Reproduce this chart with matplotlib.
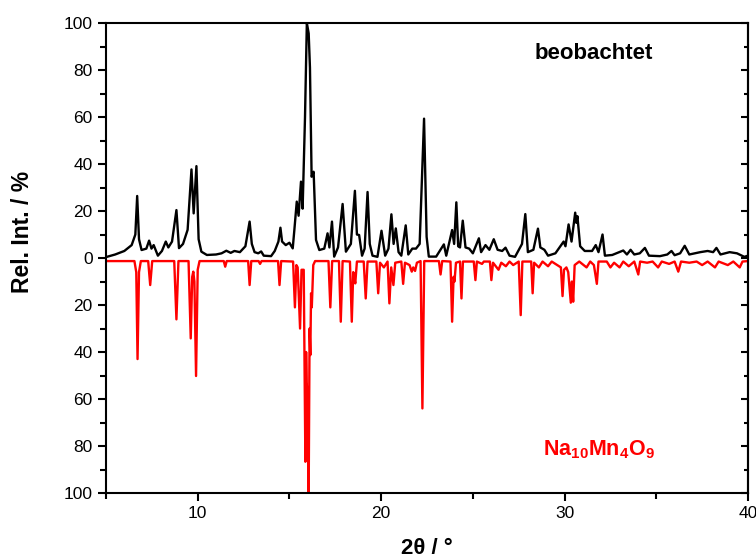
import matplotlib
matplotlib.use("Agg")
import matplotlib.pyplot as plt
from matplotlib.ticker import MultipleLocator, FuncFormatter

plt.rcParams["font.family"] = ["Liberation Sans", "DejaVu Sans"]
plt.rcParams["mathtext.fontset"] = "custom"
plt.rcParams["mathtext.rm"] = "Liberation Sans:bold"
plt.rcParams["mathtext.bf"] = "Liberation Sans:bold"
plt.rcParams["mathtext.it"] = "Liberation Sans:bold"

obs_x = [5.0, 5.5, 6.0, 6.4, 6.6, 6.70, 6.8, 6.94, 7.2, 7.35, 7.48, 7.6, 7.83, 8.05, 8.26,
         8.4, 8.6, 8.84, 8.98, 9.2, 9.45, 9.66, 9.78, 9.93, 10.05, 10.2, 10.5, 11.0, 11.3,
         11.56, 11.8, 12.0, 12.3, 12.6, 12.83, 12.95, 13.1, 13.3, 13.46, 13.6, 14.0, 14.2,
         14.4, 14.51, 14.6, 14.8, 15.0, 15.18, 15.27, 15.4, 15.5, 15.63, 15.72, 15.85, 15.95,
         16.05, 16.12, 16.21, 16.32, 16.45, 16.63, 16.9, 17.08, 17.18, 17.32, 17.44, 17.65,
         17.9, 18.08, 18.35, 18.57, 18.68, 18.8, 18.96, 19.1, 19.26, 19.38, 19.53, 19.8,
         20.02, 20.22, 20.4, 20.56, 20.68, 20.8, 20.95, 21.1, 21.34, 21.48, 21.7, 21.9, 22.1,
         22.34, 22.48, 22.6, 23.0, 23.42, 23.55, 23.87, 23.98, 24.1, 24.2, 24.3, 24.45, 24.6,
         24.8, 25.0, 25.33, 25.45, 25.69, 25.9, 26.14, 26.35, 26.6, 26.78, 27.0, 27.3, 27.68,
         27.86, 28.0, 28.3, 28.55, 28.68, 28.9, 29.1, 29.5, 29.95, 30.05, 30.22, 30.38, 30.58,
         30.64, 30.7, 30.85, 31.1, 31.5, 31.7, 31.85, 32.07, 32.2, 32.6, 33.2, 33.4, 33.6,
         33.8, 34.1, 34.38, 34.6, 35.2, 35.6, 35.83, 36.0, 36.3, 36.55, 36.8, 37.4, 37.8,
         38.1, 38.28, 38.5, 39.0, 39.4, 39.8, 40.0]
obs_y = [0.4, 1.5, 3.0, 5.5, 10, 26.4, 8, 3.4, 4, 7.4, 4, 5.5, 1, 3, 7,
         4.5, 7, 20.4, 4.2, 6, 12, 37.7, 19, 39.1, 8, 2.7, 1.3, 1.5, 2.0,
         3.1, 2.2, 3.0, 2.5, 5, 15.5, 6, 2.5, 2.0, 2.8, 1.0, 0.8, 3,
         7, 12.9, 7, 5.5, 6.5, 4.1, 12, 24, 18, 32.5, 21, 60, 100,
         95.6, 81, 34.6, 36.7, 7.7, 3.4, 4, 10.5, 4.5, 15.5, 0.6, 4.5,
         23, 2.7, 6, 28.6, 10, 9.8, 1, 4, 28.1, 6, 1, 0.5,
         11.6, 1, 4, 18.6, 6, 12.6, 2.5, 1, 13.9, 1.5, 4, 4, 6,
         59.3, 9, 0.6, 0.6, 5.8, 1, 11.9, 6, 23.7, 5, 4.5, 15.9, 4.5,
         4, 2, 8.4, 2.5, 5.5, 3.5, 8, 3.5, 3, 4.4, 1, 0.5, 6,
         18.7, 2.5, 3.5, 12.5, 4.5, 3.5, 1, 2, 7, 5, 14.3, 7, 19.3,
         15, 17.8, 5, 3, 3, 5.5, 2.5, 10, 1, 1.3, 3.2, 1.5, 3.5,
         1.5, 2, 4.3, 1, 0.8, 1.5, 3, 1.2, 2, 5.2, 1.5, 2.5, 3,
         2.5, 4.3, 1.5, 2.5, 2, 0.5, 1]

# calculated pattern of Na10Mn4O9, plotted downward
calc_x = [5.0, 6.55, 6.65, 6.72, 6.8, 6.9, 7.3, 7.41, 7.52, 8.72, 8.84, 8.95, 9.5, 9.62,
          9.7, 9.76, 9.82, 9.91, 10.0, 10.1, 11.42, 11.5, 11.58, 12.75, 12.83, 12.92, 13.32,
          13.4, 13.48, 14.38, 14.46, 14.55, 15.2, 15.3, 15.38, 15.45, 15.58, 15.66, 15.78,
          15.87, 15.91, 15.94, 16.0, 16.05, 16.1, 16.14, 16.18, 16.22, 16.3, 16.4, 17.13,
          17.23, 17.33, 17.7, 17.8, 17.9, 18.3, 18.4, 18.48, 18.53, 18.59, 18.68, 19.05,
          19.16, 19.26, 19.74, 19.84, 19.94, 20.15, 20.35, 20.45, 20.55, 20.67, 20.77, 21.1,
          21.2, 21.3, 21.55, 21.67, 21.75, 21.85, 21.95, 22.15, 22.25, 22.35, 23.15, 23.24,
          23.33, 23.78, 23.87, 23.95, 24.0, 24.08, 24.3, 24.38, 24.46, 25.05, 25.14, 25.22,
          25.5, 25.6, 25.93, 26.01, 26.1, 26.4, 26.55, 26.8, 27.0, 27.2, 27.5, 27.61, 27.7,
          28.18, 28.26, 28.34, 28.6, 28.8, 29.1, 29.3, 29.8, 29.89, 29.97, 30.1, 30.2, 30.34,
          30.4, 30.47, 30.55, 30.8, 31.2, 31.4, 31.6, 31.76, 31.85, 32.3, 32.5, 32.7, 33.0,
          33.2, 33.5, 33.8, 34.02, 34.12, 34.5, 34.8, 35.1, 35.3, 35.7, 36.0, 36.2, 36.35,
          36.8, 37.2, 37.5, 37.8, 38.2, 38.4, 38.9, 39.2, 39.55, 39.7, 40.0]
calc_y = [-1.3, -1.3, -6, -43, -6, -1.3, -1.3, -11.5, -1.3, -1.3, -26.1, -1.3, -1.3, -34.2,
          -8, -5.8, -10, -50.2, -5, -1.3, -1.3, -3.7, -1.3, -1.3, -11.5, -1.3, -1.3,
          -2.5, -1.3, -1.3, -11.5, -1.3, -1.5, -21, -3, -4, -30, -5, -5,
          -86.7, -40, -53, -60, -100, -30, -41.3, -15, -21, -3, -1.3, -1.3,
          -21, -1.3, -1.3, -27.1, -1.3, -1.5, -27.1, -6, -8, -10.8, -1.5, -1.5,
          -17.2, -1.5, -1.5, -15, -2, -4, -1.5, -19.3, -4, -11.5, -2, -1.5,
          -11, -2, -3, -5.8, -4, -5.5, -2, -1.3, -64, -1.3, -1.3, -7,
          -1.3, -1.5, -27.1, -8, -10, -2, -1.5, -17.2, -1.5, -1.5, -9.4, -1.5,
          -2.5, -1.5, -1.5, -9.4, -2, -5, -2, -3.5, -1.5, -3, -1.5, -24.3, -1.5,
          -1.5, -15, -2, -4, -1.5, -3.5, -1.5, -4, -16.2, -5, -4, -6, -19,
          -10, -18.6, -3, -1.5, -4, -1.5, -3, -11, -1.5, -1.5, -4, -2, -4,
          -1.5, -3.5, -1.5, -7, -1.5, -2, -1.5, -4, -1.5, -2.5, -1.5, -5.8, -1.5,
          -2, -1.5, -3, -1.5, -4, -1.5, -3, -1.5, -4, -1.5, -1.3]

fig = plt.figure(figsize=(7.56, 5.6), dpi=100)
ax = fig.add_axes([0.1402, 0.1196, 0.8492, 0.8393])

ax.plot(obs_x, obs_y, color="black", lw=1.7, zorder=3)
ax.plot(calc_x, calc_y, color="#ff0000", lw=1.7, zorder=2)

ax.set_xlim(5, 40)
ax.set_ylim(-100, 100)
ax.xaxis.set_major_locator(MultipleLocator(10))
ax.xaxis.set_minor_locator(MultipleLocator(5))
ax.yaxis.set_major_locator(MultipleLocator(20))
ax.yaxis.set_minor_locator(MultipleLocator(10))
ax.yaxis.set_major_formatter(FuncFormatter(lambda v, p: "%d" % abs(round(v))))

for s in ax.spines.values():
    s.set_linewidth(1.5)
ax.tick_params(which="both", direction="out", width=1.5, labelsize=12.5,
               top=False, right=False)
ax.tick_params(which="major", length=6)
ax.tick_params(which="minor", length=4)

# right-side ticks point inward, no labels
ax2 = ax.secondary_yaxis("right")
ax2.yaxis.set_major_locator(MultipleLocator(20))
ax2.yaxis.set_minor_locator(MultipleLocator(10))
ax2.tick_params(which="both", direction="in", width=1.5, labelright=False)
ax2.tick_params(which="major", length=5)
ax2.tick_params(which="minor", length=3)
ax2.spines["right"].set_linewidth(1.5)

ax.set_xlabel("2θ / °", fontsize=16, fontweight="bold", labelpad=12)
ax.set_ylabel("Rel. Int. / %", fontsize=16.5, fontweight="bold")
ax.yaxis.set_label_coords(-0.112, 0.555)

ax.text(31.6, 87.2, "beobachtet", fontsize=16, fontweight="bold",
        ha="center", va="center")
ax.text(31.85, -81.7, r"$\mathbf{Na_{10}Mn_{4}O_{9}}$", fontsize=15.5, color="#ff0000",
        ha="center", va="center")

fig.savefig("out.png", dpi=100)
